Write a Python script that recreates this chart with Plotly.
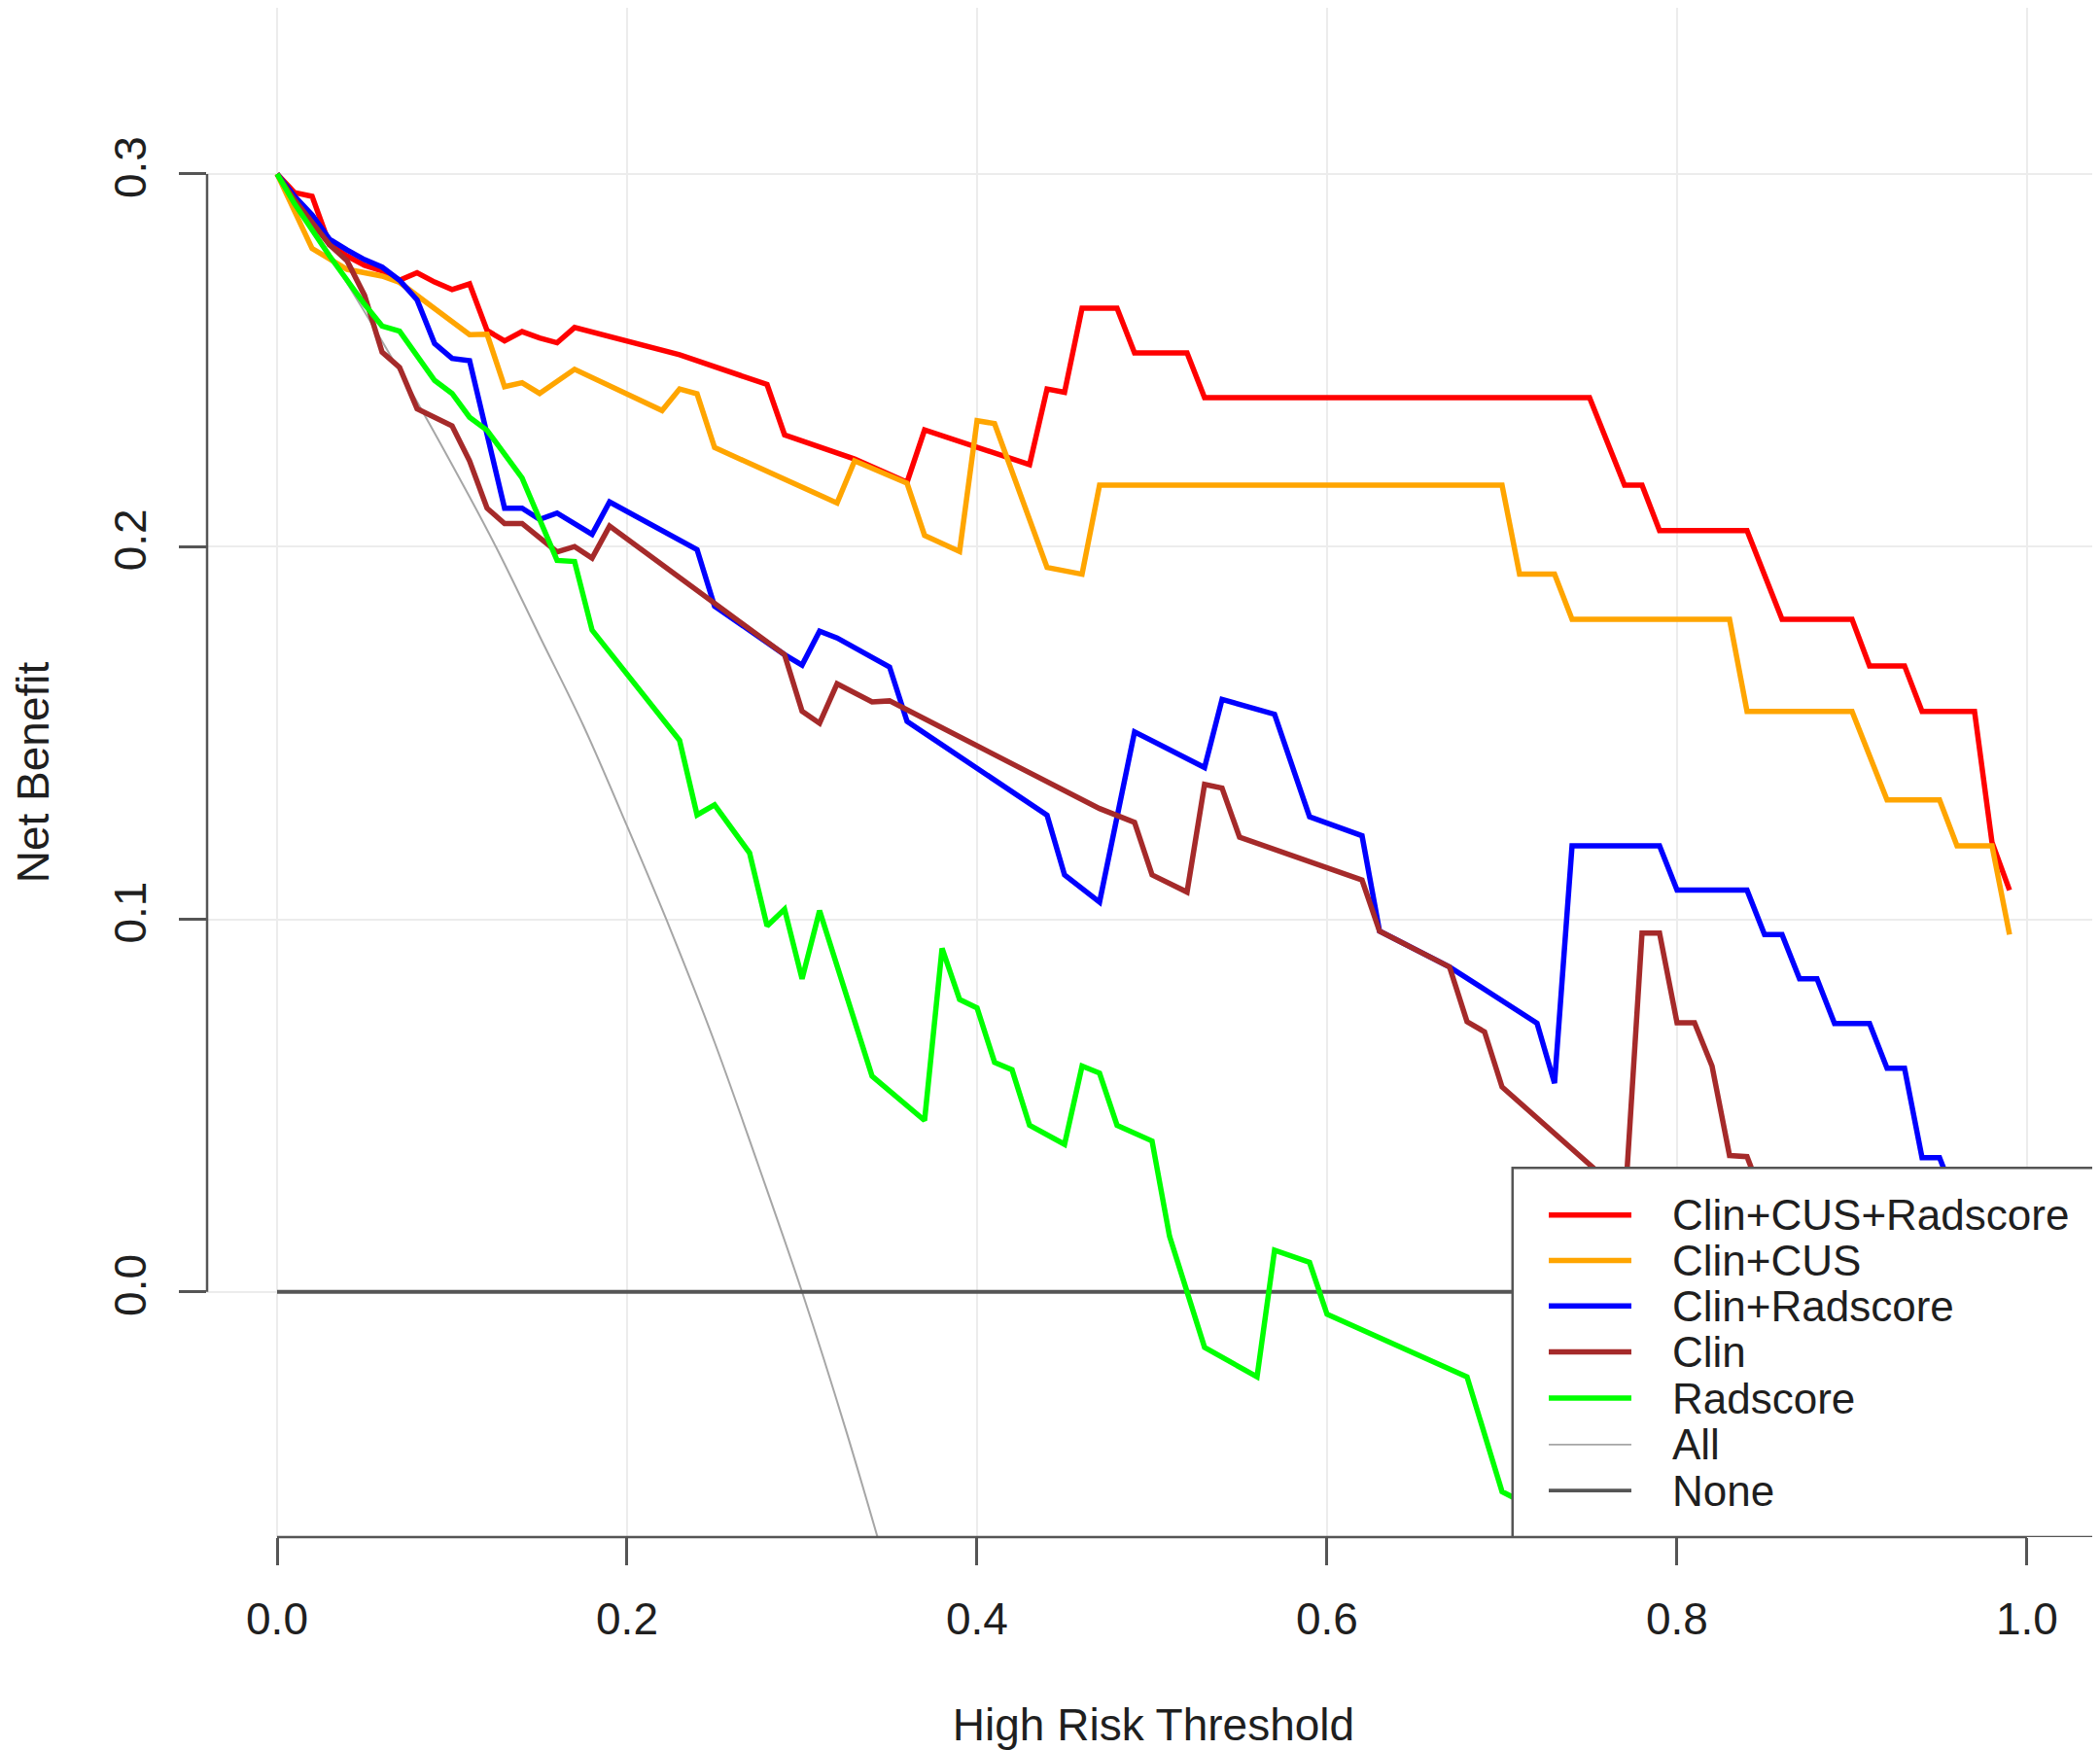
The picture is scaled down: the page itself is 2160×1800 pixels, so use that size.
import plotly.graph_objects as go

# ---- data ----
red_x = [0.00, 0.01, 0.02, 0.03, 0.04, 0.05, 0.06, 0.07, 0.08, 0.09, 0.10, 0.11, 0.12, 0.13, 0.14,
         0.15, 0.16, 0.17, 0.23, 0.28, 0.29, 0.33, 0.36, 0.37, 0.43, 0.44, 0.45, 0.46, 0.48, 0.49,
         0.52, 0.53, 0.75, 0.77, 0.78, 0.79, 0.84, 0.86, 0.90, 0.91, 0.93, 0.94, 0.97, 0.98, 0.99]
red_y = [0.300, 0.295, 0.294, 0.281, 0.278, 0.2755, 0.274, 0.2715, 0.2735, 0.271, 0.269, 0.2705,
         0.258, 0.2552, 0.2577, 0.256, 0.2547, 0.2588, 0.2515, 0.2435, 0.230, 0.2235, 0.2173,
         0.2313, 0.222, 0.2423, 0.2414, 0.264, 0.264, 0.252, 0.252, 0.240, 0.240, 0.2165, 0.2165,
         0.2043, 0.2043, 0.1805, 0.1805, 0.168, 0.168, 0.1558, 0.1558, 0.1206, 0.1078]

orange_x = [0.00, 0.01, 0.02, 0.04, 0.06, 0.07, 0.11, 0.12, 0.13, 0.14, 0.15, 0.17, 0.22, 0.23,
            0.24, 0.25, 0.32, 0.33, 0.36, 0.37, 0.39, 0.40, 0.41, 0.44, 0.46, 0.47, 0.70, 0.71,
            0.73, 0.74, 0.83, 0.84, 0.90, 0.92, 0.95, 0.96, 0.98, 0.99]
orange_y = [0.300, 0.290, 0.280, 0.2744, 0.2726, 0.2709, 0.2569, 0.2570, 0.2429, 0.2440, 0.2411,
            0.2476, 0.2365, 0.2423, 0.2410, 0.2266, 0.2117, 0.2230, 0.2170, 0.2030, 0.1987,
            0.2338, 0.2330, 0.1944, 0.1926, 0.2165, 0.2165, 0.1926, 0.1926, 0.1805, 0.1805,
            0.1558, 0.1558, 0.1320, 0.1320, 0.1197, 0.1197, 0.0959]

blue_x = [0.00, 0.01, 0.02, 0.03, 0.04, 0.05, 0.06, 0.07, 0.08, 0.09, 0.10, 0.11, 0.13, 0.14,
          0.15, 0.16, 0.18, 0.19, 0.24, 0.25, 0.29, 0.30, 0.31, 0.32, 0.35, 0.36, 0.44, 0.45,
          0.47, 0.49, 0.53, 0.54, 0.57, 0.59, 0.62, 0.63, 0.67, 0.72, 0.73, 0.74, 0.79, 0.80,
          0.84, 0.85, 0.86, 0.87, 0.88, 0.89, 0.91, 0.92, 0.93, 0.94, 0.95, 0.96]
blue_y = [0.300, 0.294, 0.289, 0.2825, 0.2796, 0.277, 0.275, 0.2715, 0.2662, 0.2545, 0.2505,
          0.2499, 0.2103, 0.2103, 0.2073, 0.209, 0.2033, 0.212, 0.1992, 0.1840, 0.171, 0.1682,
          0.1773, 0.1755, 0.1677, 0.1531, 0.1279, 0.1119, 0.1046, 0.1503, 0.1407, 0.159, 0.155,
          0.1275, 0.1224, 0.0968, 0.0872, 0.0721, 0.056, 0.1197, 0.1197, 0.1078, 0.1078, 0.0959,
          0.0959, 0.084, 0.084, 0.072, 0.072, 0.060, 0.060, 0.036, 0.036, 0.024]

brown_x = [0.00, 0.01, 0.02, 0.03, 0.04, 0.05, 0.06, 0.07, 0.08, 0.09, 0.10, 0.11, 0.12, 0.13,
           0.14, 0.16, 0.17, 0.18, 0.19, 0.29, 0.30, 0.31, 0.32, 0.34, 0.35, 0.47, 0.49, 0.50,
           0.52, 0.53, 0.54, 0.55, 0.62, 0.63, 0.67, 0.68, 0.69, 0.70, 0.76, 0.77, 0.78, 0.79,
           0.80, 0.81, 0.82, 0.83, 0.84, 0.85]
brown_y = [0.300, 0.293, 0.287, 0.281, 0.2767, 0.2674, 0.2522, 0.2481, 0.2370, 0.2347, 0.2324,
           0.2230, 0.2103, 0.2062, 0.2062, 0.1986, 0.2000, 0.1969, 0.2055, 0.171, 0.1558, 0.1526,
           0.1632, 0.1583, 0.1586, 0.1297, 0.1260, 0.1119, 0.1073, 0.1362, 0.1352, 0.1220,
           0.1105, 0.0968, 0.0872, 0.0725, 0.0698, 0.0550, 0.0300, 0.0220, 0.0963, 0.0963,
           0.0722, 0.0722, 0.0606, 0.0366, 0.0363, 0.0240]

green_x = [0.00, 0.01, 0.03, 0.05, 0.06, 0.07, 0.09, 0.10, 0.11, 0.12, 0.14, 0.16, 0.17, 0.18,
           0.23, 0.24, 0.25, 0.27, 0.28, 0.29, 0.30, 0.31, 0.34, 0.37, 0.38, 0.39, 0.40, 0.41,
           0.42, 0.43, 0.45, 0.46, 0.47, 0.48, 0.50, 0.51, 0.53, 0.56, 0.57, 0.59, 0.60, 0.68,
           0.70, 0.71]
green_y = [0.300, 0.292, 0.278, 0.265, 0.2592, 0.2578, 0.2446, 0.2411, 0.2347, 0.2312, 0.2184,
           0.1963, 0.1960, 0.1776, 0.1480, 0.1280, 0.1307, 0.1178, 0.0982, 0.1027, 0.0840,
           0.1023, 0.0579, 0.0460, 0.0922, 0.0785, 0.0762, 0.0616, 0.0596, 0.0447, 0.0396,
           0.0606, 0.0587, 0.0447, 0.0405, 0.0149, -0.0149, -0.0228, 0.0112, 0.0079, -0.0060,
           -0.0228, -0.0536, -0.0560]

all_x = [0.000, 0.025, 0.050, 0.075, 0.100, 0.125, 0.150, 0.175, 0.200, 0.225, 0.250, 0.275,
         0.300, 0.325, 0.350]
all_y = [0.300, 0.282, 0.263, 0.243, 0.222, 0.200, 0.176, 0.152, 0.125, 0.097, 0.067, 0.034,
         0.000, -0.037, -0.077]

none_x = [0.00, 0.99]
none_y = [0.0, 0.0]

series_names = ["Clin+CUS+Radscore", "Clin+CUS", "Clin+Radscore", "Clin", "Radscore", "All", "None"]
x_ticks = [0.0, 0.2, 0.4, 0.6, 0.8, 1.0]
x_tick_labels = ["0.0", "0.2", "0.4", "0.6", "0.8", "1.0"]
y_ticks = [0.0, 0.1, 0.2, 0.3]
y_tick_labels = ["0.0", "0.1", "0.2", "0.3"]

FONT = "Liberation Sans, Arial, Helvetica, sans-serif"
TXT = "#1f1f1f"
AXC = "#555555"

colors = ["#FF0000", "#FFA500", "#0000FF", "#A52A2A", "#00FF00", "#A6A6A6", "#555555"]
widths = [5.5, 5.5, 5.5, 5.5, 5.5, 2.0, 4.0]
shapes_line = ["linear"] * 5 + ["spline", "linear"]
data = [(red_x, red_y), (orange_x, orange_y), (blue_x, blue_y), (brown_x, brown_y),
        (green_x, green_y), (all_x, all_y), (none_x, none_y)]

fig = go.Figure()
order = [5, 6, 0, 1, 2, 3, 4]  # reference lines below the model curves
for i in order:
    xs, ys = data[i]
    fig.add_trace(go.Scatter(
        x=xs, y=ys, mode="lines", name=series_names[i], showlegend=False,
        line=dict(color=colors[i], width=widths[i], shape=shapes_line[i]),
    ))

# ---- legend box (bottom-right inset, drawn as layout decoration) ----
leg_x0, leg_x1 = 0.706, 1.0389
leg_top = 0.0333
row_y = [0.0206, 0.0084, -0.0038, -0.0161, -0.0285, -0.0410, -0.0533]
samp_x0, samp_x1, text_x = 0.7267, 0.7739, 0.7961

shapes = [
    dict(type="line", xref="paper", yref="y", x0=0, x1=0, y0=0.0, y1=0.3,
         line=dict(color=AXC, width=2.5), layer="above"),
    dict(type="line", xref="x", yref="paper", x0=0.0, x1=1.0, y0=0, y1=0,
         line=dict(color=AXC, width=2.5), layer="above"),
    dict(type="rect", xref="x", yref="y", x0=leg_x0, x1=leg_x1, y0=-0.0658, y1=leg_top,
         line=dict(color=AXC, width=2.5), fillcolor="white", layer="above"),
]
annotations = []
for k, name in enumerate(series_names):
    shapes.append(dict(type="line", xref="x", yref="y", x0=samp_x0, x1=samp_x1,
                       y0=row_y[k], y1=row_y[k],
                       line=dict(color=colors[k], width=widths[k] if k < 5 else widths[k] * 0.9),
                       layer="above"))
    annotations.append(dict(x=text_x, y=row_y[k], xref="x", yref="y", text=name,
                            showarrow=False, xanchor="left", yanchor="middle",
                            font=dict(family=FONT, size=44, color=TXT)))

fig.update_layout(
    width=2152, height=1792,
    margin=dict(l=205, r=0, t=0, b=219, autoexpand=False),
    paper_bgcolor="white", plot_bgcolor="white",
    font=dict(family=FONT, size=46, color=TXT),
    showlegend=False,
    xaxis=dict(
        range=[-0.04, 1.0417], tickvals=x_ticks, ticktext=x_tick_labels,
        showgrid=True, gridcolor="#ececec", gridwidth=2, zeroline=False, automargin=False,
        showline=False, ticks="outside", ticklen=28, tickwidth=2.5, tickcolor=AXC,
        ticklabelstandoff=16,
        title=dict(text="High Risk Threshold", font=dict(size=46, color=TXT), standoff=68),
    ),
    yaxis=dict(
        range=[-0.0658, 0.3446], tickvals=y_ticks, ticktext=y_tick_labels, tickangle=-90,
        showgrid=True, gridcolor="#ececec", gridwidth=2, zeroline=False, automargin=False,
        showline=False, ticks="outside", ticklen=28, tickwidth=2.5, tickcolor=AXC,
        ticklabelstandoff=16,
        title=dict(text="Net Benefit", font=dict(size=46, color=TXT), standoff=70),
    ),
    shapes=shapes,
    annotations=annotations,
)

fig.write_html("out.html")
